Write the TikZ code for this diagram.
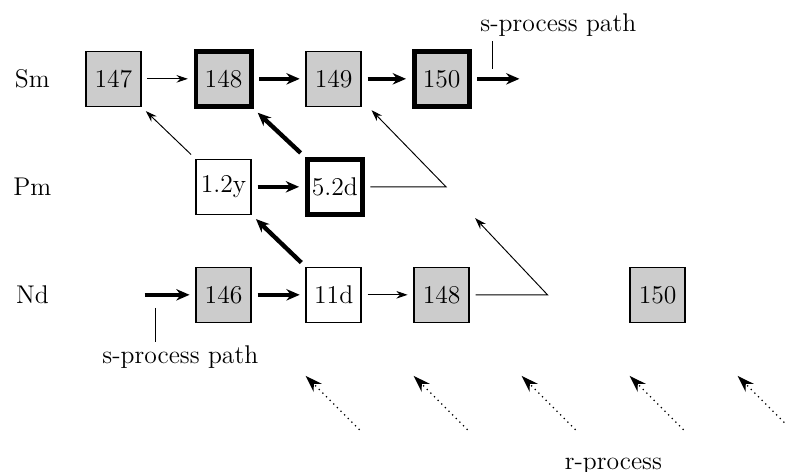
\documentclass[tikz,border=0pt]{standalone}
\usetikzlibrary{arrows.meta}
\tikzset{
  lbl/.style     = {font=\fontsize{13.5}{16}\selectfont},
  nuc/.style     = {draw, lbl, line width=0.8pt, minimum size=1.02cm, inner sep=0pt},
  stable/.style  = {nuc, fill=black!20},
  branchpt/.style= {line width=2.6pt},
  fat/.style     = {line width=2.3pt, -{Stealth[length=7pt,width=6pt]}, shorten <=3pt, shorten >=3pt},
  slim/.style    = {line width=0.5pt, -{Stealth[length=6pt,width=4pt]}, shorten <=3pt, shorten >=3pt},
  rproc/.style   = {line width=0.7pt, dotted, -{Stealth[length=9pt,width=6pt]}},
}
\begin{document}
\begin{tikzpicture}[scale = 2]
        \useasboundingbox (0,0) rectangle (7.269,4.370);
        % element labels
        \node[lbl] (Sm) at (0.30,3.64) {Sm};
        \node[lbl] (Pm) at (0.30,2.64) {Pm};
        \node[lbl] (Nd) at (0.30,1.64) {Nd};
        % isotopes
        \node[stable]          (s147) at (1.05,3.64) {147};
        \node[stable,branchpt] (s148) at (2.07,3.64) {148};
        \node[stable]          (s149) at (3.09,3.64) {149};
        \node[stable,branchpt] (s150) at (4.09,3.64) {150};
        \node[nuc]             (p147) at (2.07,2.64) {1.2y};
        \node[nuc,branchpt]    (p148) at (3.10,2.64) {5.2d};
        \node[stable]          (n146) at (2.07,1.64) {146};
        \node[nuc]             (n147) at (3.09,1.64) {11d};
        \node[stable]          (n148) at (4.09,1.64) {148};
        \node[stable]          (n150) at (6.09,1.64) {150};
        % free ends
        \coordinate (sout)  at (4.81,3.64);
        \coordinate (sin)   at (1.34,1.64);
        \coordinate (pm)    at (4.13,2.64);
        \coordinate (pmtip) at (3.44,3.35);
        \coordinate (nd)    at (5.07,1.64);
        \coordinate (ndtip) at (4.40,2.35);
        % s-process
        \draw[slim] (s147) -- (s148);
        \draw[fat]  (s148) -- (s149);
        \draw[fat]  (s149) -- (s150);
        \draw[fat, shorten >=0pt] (s150) -- (sout);
        \draw[fat, shorten <=0pt] (sin) -- (n146);
        \draw[fat]  (n146) -- (n147);
        \draw[slim] (n147) -- (n148);
        \draw[fat]  (p147) -- (p148);
        \draw[fat]  (n147.north west) -- (p147.south east);
        \draw[fat]  (p148.north west) -- (s148.south east);
        \draw[slim] (p147.north west) -- (s147.south east);
        % branchings
        \draw[slim, shorten >=0pt] (p148) -- (pm) -- (pmtip);
        \draw[slim, shorten >=0pt] (n148) -- (nd) -- (ndtip);
        % labels
        \coordinate (ttop) at (4.56,3.99);
        \coordinate (tbot) at (4.56,3.73);
        \draw[line width=0.5pt] (ttop) -- (tbot);
        \node[lbl] (stext) at (5.17,4.14) {s-process path};
        \coordinate (btop) at (1.44,1.52);
        \coordinate (bbot) at (1.44,1.20);
        \draw[line width=0.5pt] (btop) -- (bbot);
        \node[lbl] (btext) at (1.67,1.06) {s-process path};
        % r-process
        \foreach \x [count=\i] in {2.83,3.83,4.83,5.83,6.83} {
          \coordinate (rt\i) at (\x+0.5,0.39);
          \coordinate (rh\i) at (\x,0.89);
          \draw[rproc] (rt\i) -- (rh\i);
        }
        \node[lbl] (rtext) at (5.68,0.05) {r-process};
      \end{tikzpicture}
\end{document}
